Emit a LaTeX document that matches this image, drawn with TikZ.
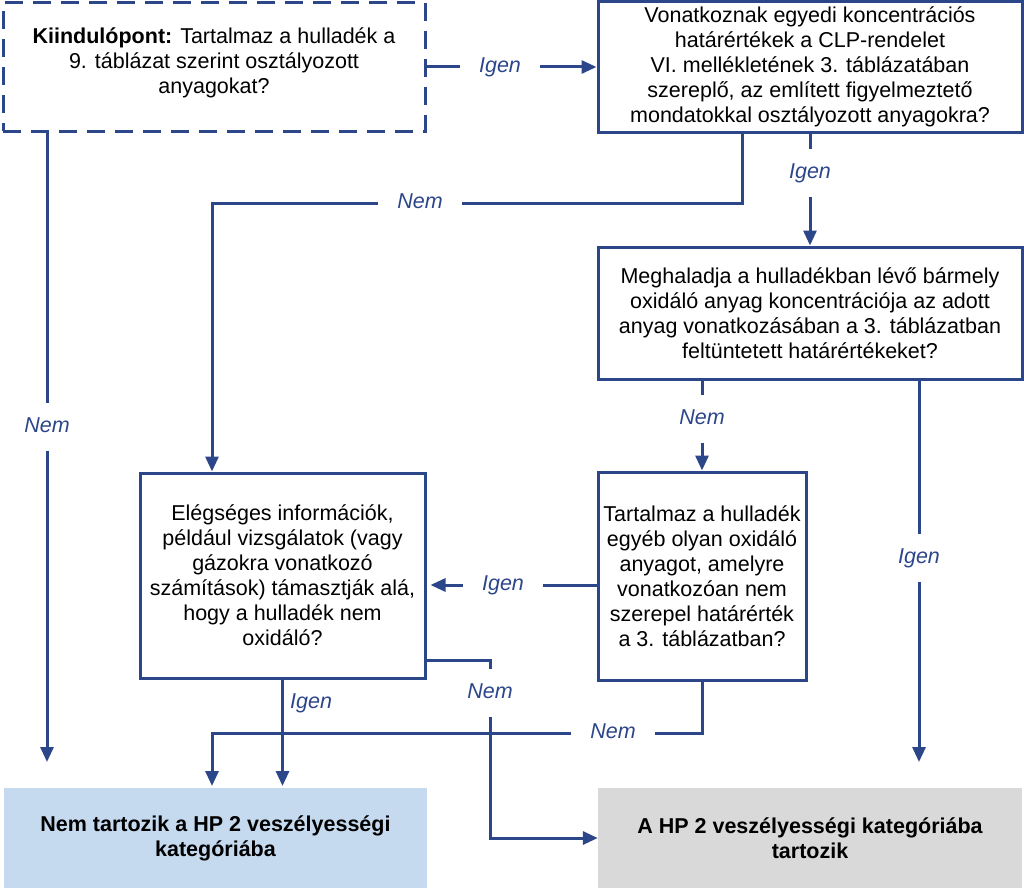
\documentclass[tikz,border=0pt]{standalone}
\usepackage{fontspec}
\setmainfont{Liberation Sans}
\usetikzlibrary{arrows.meta}
\definecolor{flowblue}{RGB}{44,70,138}
\definecolor{okblue}{RGB}{197,218,238}
\definecolor{hpgray}{RGB}{217,217,217}

\begin{document}
\begin{tikzpicture}[x=1pt, y=-1pt,
    box/.style={draw=flowblue, line width=3pt, align=center, inner sep=2pt, font=\fontsize{21.5}{25}\selectfont},
    endbox/.style={align=center, inner sep=0pt, font=\fontsize{21.5}{25}\selectfont\bfseries},
    tag/.style={text=flowblue, font=\fontsize{21.5}{25}\selectfont\itshape, inner xsep=19pt, inner ysep=14pt, text height=15pt, text depth=4pt},
    sidetag/.style={text=flowblue, font=\fontsize{21.5}{25}\selectfont\itshape, inner sep=0pt, anchor=west},
    link/.style={draw=flowblue, line width=3pt},
    arr/.style={-{Triangle[length=15pt,width=13pt]}}]
\useasboundingbox (0,0) rectangle (1024,888);
    % boxes
    \node[box, dashed, dash pattern=on 18pt off 10pt, minimum width=422pt, minimum height=128pt] (start) at (214,67) {\textbf{Kiindulópont:} Tartalmaz a hulladék a\\9. táblázat szerint osztályozott\\anyagokat?\\[-13pt]};
    \node[box, minimum width=424pt, minimum height=130pt] (clp) at (810,67) {Vonatkoznak egyedi koncentrációs\\határértékek a CLP-rendelet\\VI. mellékletének 3. táblázatában\\szereplő, az említett figyelmeztető\\mondatokkal osztályozott anyagokra?};
    \node[box, minimum width=424pt, minimum height=132pt] (limit) at (810,313) {Meghaladja a hulladékban lévő bármely\\oxidáló anyag koncentrációja az adott\\anyag vonatkozásában a 3. táblázatban\\feltüntetett határértékeket?};
    \node[box, minimum width=285pt, minimum height=205pt] (info) at (282.5,575.5) {Elégséges információk,\\például vizsgálatok (vagy\\gázokra vonatkozó\\számítások) támasztják alá,\\hogy a hulladék nem\\oxidáló?};
    \node[box, minimum width=208pt, minimum height=208pt] (other) at (702,576) {Tartalmaz a hulladék\\egyéb olyan oxidáló\\anyagot, amelyre\\vonatkozóan nem\\szerepel határérték\\a 3. táblázatban?};
    \node[endbox, fill=okblue, minimum width=423pt, minimum height=100pt] (nothp) at (215.5,838) {Nem tartozik a HP 2 veszélyességi\\kategóriába};
    \node[endbox, fill=hpgray, minimum width=424pt, minimum height=100pt] (ishp) at (810,838) {A HP 2 veszélyességi kategóriába\\tartozik};
    % answers
    \node[tag] (y1) at (500,67) {Igen};
    \node[tag] (n1) at (420,203) {Nem};
    \node[tag] (y2) at (810,173) {Igen};
    \node[tag] (n2) at (702,419) {Nem};
    \node[tag] (y3) at (919,558) {Igen};
    \node[tag] (y4) at (503,585) {Igen};
    \node[tag] (n3) at (490,693) {Nem};
    \node[tag] (n4) at (613,733) {Nem};
    \node[tag] (n5) at (47,427) {Nem};
    \node[sidetag] (y5) at (290,703) {Igen};
    % columns, rows and free ends
    \coordinate (colA) at (47,0);
    \coordinate (colB) at (212,0);
    \coordinate (colF) at (742,0);
    \coordinate (colH) at (919,0);
    \coordinate (rowIn) at (0,660);
    \coordinate (endA) at (47,762);
    \coordinate (endB) at (212,786);
    \coordinate (endC) at (282.5,786);
    \coordinate (endH) at (919,762);
    % connectors
    \draw[link] (start) -- (y1);
    \draw[link, arr] (y1) -- (clp);
    \draw[link] (clp.south -| colF) |- (n1);
    \draw[link, arr] (n1) -| (info.north -| colB);
    \draw[link] (clp) -- (y2);
    \draw[link, arr] (y2) -- (limit);
    \draw[link] (limit.south -| other) -- (n2);
    \draw[link, arr] (n2) -- (other);
    \draw[link] (limit.south -| colH) -- (y3);
    \draw[link, arr] (y3) -- (endH);
    \draw[link] (other.west |- y4) -- (y4);
    \draw[link, arr, shorten >=4pt] (y4) -- (info.east |- y4);
    \draw[link] (info.east |- rowIn) -| (n3);
    \draw[link, arr] (n3) |- (ishp.west);
    \draw[link] (other) |- (n4);
    \draw[link, arr] (n4) -| (endB);
    \draw[link, arr] (info) -- (endC);
    \draw[link] (start.south -| colA) -- (n5);
    \draw[link, arr] (n5) -- (endA);
\end{tikzpicture}
\end{document}
